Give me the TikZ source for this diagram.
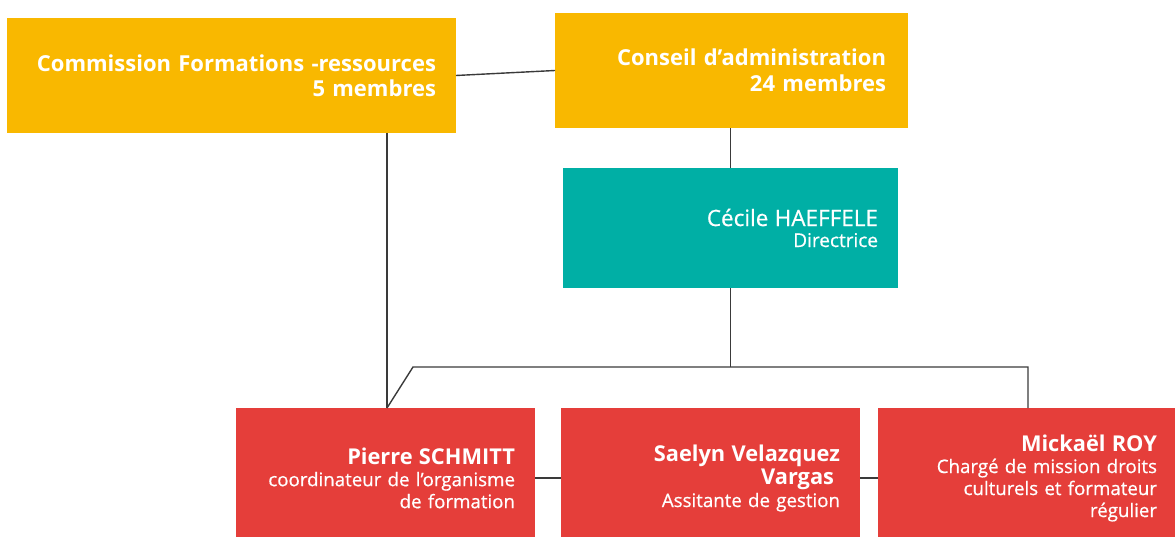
\documentclass[tikz,border=0pt]{standalone}
\usepackage{fontspec}
\setmainfont{Open Sans}
\newfontfamily\medfont{Open Sans}[FakeBold=0.6]
\definecolor{cyellow}{HTML}{F9B800}
\definecolor{cteal}{HTML}{00AFA5}
\definecolor{cred}{HTML}{E53E3A}
\definecolor{cline}{HTML}{3A3A3A}
\newcommand{\hdfont}{\fontsize{21.8}{25}\selectfont\bfseries}
\begin{document}
\begin{tikzpicture}[x=1pt,y=-1pt,
  box/.style={anchor=north west, inner sep=0pt, outer sep=0pt, text=white, align=right},
  conn/.style={draw=cline, line width=1.4pt}]
\useasboundingbox (0,0) rectangle (1175,537);
\clip (0,0) rectangle (1175,537);
% boxes
\node[box, fill=cyellow, minimum width=449pt, minimum height=115pt, text width=409pt,
  font=\fontsize{22}{25}\selectfont\bfseries] (comm) at (7,18)
  {Commission Formations -ressources\\5 membres};
\node[box, fill=cyellow, minimum width=353pt, minimum height=115pt, text width=309pt,
  font=\fontsize{22}{26}\selectfont\bfseries] (cons) at (555,13)
  {Conseil d’administration\\24 membres};
\node[box, fill=cteal, minimum width=335pt, minimum height=120pt, text width=295pt,
  font=\medfont\fontsize{19}{21}\selectfont] (dir) at (563,168)
  {{\fontsize{22.5}{21}\selectfont Cécile HAEFFELE}\\Directrice};
\node[box, fill=cred, minimum width=299pt, minimum height=140pt, text width=259pt,
  font=\medfont\fontsize{18.7}{22}\selectfont] (pierre) at (236,408)
  {{\normalfont\hdfont Pierre SCHMITT}\\coordinateur de l’organisme\\de formation};
\node[box, fill=cred, minimum width=299pt, minimum height=140pt, text width=259pt,
  font=\medfont\fontsize{18.7}{23}\selectfont] (saelyn) at (561,408)
  {{\normalfont\hdfont Saelyn Velazquez}\\{\normalfont\hdfont Vargas\hbox to 6pt{}}\\Assitante de gestion};
\node[box, fill=cred, minimum width=297pt, minimum height=140pt, text width=261pt,
  font=\medfont\fontsize{18.7}{22}\selectfont] (mick) at (878,408)
  {{\normalfont\hdfont Mickaël ROY}\\Chargé de mission droits\\culturels et formateur\\régulier};
% coordinates
\coordinate (pj) at (387,408);
\coordinate (busL) at (413,367);
\coordinate (busR) at (1028,367);
% connectors
\draw[conn] (comm.east) -- (cons.west);
\draw[conn] (cons.south -| dir.north) -- (dir.north);
\draw[conn] (dir.south) -- (dir.south |- busL);
\draw[conn] (pj) -- (busL) -- (busR) -- (busR |- mick.north);
\draw[conn] (comm.south -| pj) -- (pj);
\draw[conn] (pierre.east |- saelyn.west) -- (saelyn.west);
\draw[conn] (saelyn.east) -- (mick.west);
\end{tikzpicture}
\end{document}
